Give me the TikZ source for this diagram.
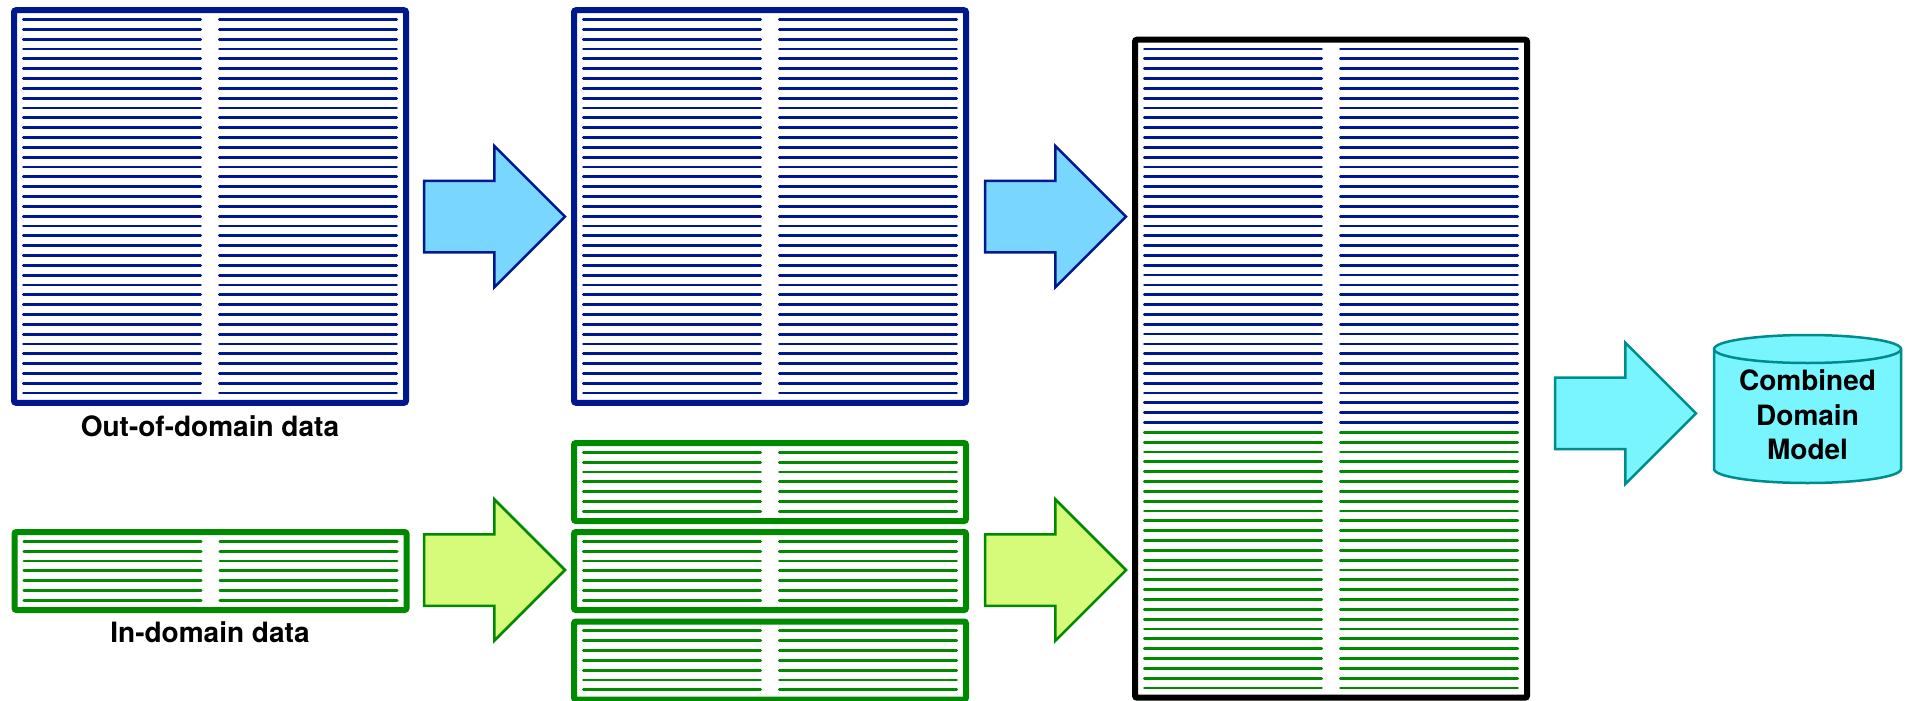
\documentclass[tikz,border=0pt]{standalone}
\usepackage{fontspec}
\setmainfont{TeX Gyre Heros}
\usepackage{tikz}
\usetikzlibrary{positioning,calc,shapes.arrows}
\definecolor{oodblue}{RGB}{0,24,143}
\definecolor{indgreen}{RGB}{0,138,0}
\definecolor{arrowblue}{RGB}{120,214,255}
\definecolor{arrowgreen}{RGB}{214,250,122}
\definecolor{modelfill}{RGB}{120,245,255}
\definecolor{modeledge}{RGB}{0,140,140}
\tikzset{
    databox/.style = {
        draw,
        shape=rectangle,
        fill=white,
        line width=6pt,
        rounded corners=2pt,
        minimum width=392,
        inner sep=0,
        outer sep=0
    },
    row/.style = {
        line width=2.8pt,
        line cap=round
    },
    bigarrow/.style = {
        draw,
        shape=single arrow,
        anchor=tail,
        line width=2.5pt,
        minimum height=141,
        inner xsep=0,
        inner ysep=34.5,
        single arrow head extend=35,
        outer sep=0
    },
    bluearrow/.style = {bigarrow, draw=oodblue, fill=arrowblue},
    greenarrow/.style = {bigarrow, draw=indgreen, fill=arrowgreen},
    modelarrow/.style = {bigarrow, draw=modeledge, fill=modelfill},
    datalabel/.style = {
        font=\fontsize{28}{34.5}\selectfont\bfseries,
        align=center,
        inner sep=0
    },
}

\begin{document}
\begin{tikzpicture}[x=1pt,y=-1pt]
                \useasboundingbox (0,0) rectangle (1908,701);

                \node[databox, draw=oodblue, minimum height=392.5] (ood) at (210,206.5) {};
                \node[databox, draw=indgreen, minimum height=78] (ind) at (210.5,571) {};
                \node[databox, draw=oodblue, minimum height=392.5] (mid) at (770,206.5) {};
                \node[databox, draw=indgreen, minimum height=78] (ida) at (770,482) {};
                \node[databox, draw=indgreen, minimum height=78] (idb) at (770,571) {};
                \node[databox, draw=indgreen, minimum height=78] (idc) at (770,660.5) {};
                \node[databox, draw=black, minimum height=658] (big) at (1331,368.7) {};

                % rows of each data set
                \foreach \b/\s/\e/\c in {ood/1/39/oodblue, ind/1/7/indgreen, mid/1/39/oodblue,
                        ida/1/7/indgreen, idb/1/7/indgreen, idc/1/7/indgreen,
                        big/1/39/oodblue, big/40/66/indgreen}
                    \foreach \k in {\s,...,\e}
                        \path[draw, row, \c] ([shift={(9.4,{9.3+(\k-1)*9.83})}]\b.north west) -- ++(177.2,0)
                            ([shift={(205.4,{9.3+(\k-1)*9.83})}]\b.north west) -- ++(177.2,0);

                \node[datalabel] (oodtext) at (210,426) {Out-of-domain data};
                \node[datalabel] (indtext) at (210,632) {In-domain data};

                \node[bluearrow] (copy) at (424,216.7) {};
                \node[greenarrow] (split) at (424,570) {};
                \node[bluearrow] (join) at (985,216.7) {};
                \node[greenarrow] (merge) at (985,570) {};
                \node[modelarrow] (train) at (1555,413.3) {};

                % model store
                \path[draw=modeledge, fill=modelfill, line width=2.5pt] (1714,349) -- (1714,469)
                    arc[start angle=180, end angle=360, x radius=93.5pt, y radius=14pt] -- (1901,349)
                    arc[start angle=0, end angle=180, x radius=93.5pt, y radius=14pt] -- cycle;
                \path[draw=modeledge, line width=2.5pt] (1714,349)
                    arc[start angle=180, end angle=360, x radius=93.5pt, y radius=14pt];
                \node[datalabel] (model) at (1807.5,415) {Combined\\Domain\\Model};
            \end{tikzpicture}
\end{document}
